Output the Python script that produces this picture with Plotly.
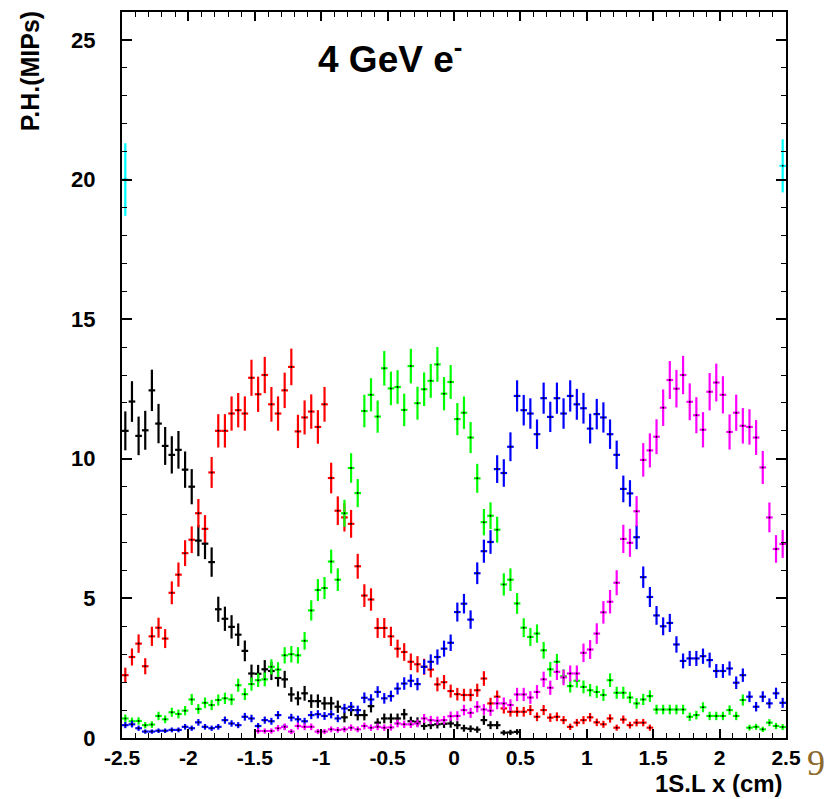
import numpy as np
import plotly.graph_objects as go

# ---- binning (bin width 0.05 cm, from -2.5 to 2.5) ----
X_MIN = -2.5
BIN_W = 0.05

# ---- data: pulse height (MIPs) per bin, for each pad ----
black_first = 0
black_vals = [11.0, 12.05, 10.82, 11.02, 12.45, 11.26, 10.46, 10.14, 10.32, 9.61,
              9.0, 7.07, 6.96, 6.3, 4.61, 4.27, 3.98, 3.70, 3.12, 2.31,
              2.3, 2.46, 2.4, 2.15, 2.10, 1.56, 1.42, 1.60, 1.32, 1.32,
              1.24, 1.24, 1.12, 0.74, 1.0, 0.82, 0.82, 1.14, 0.55, 0.70,
              0.70, 0.7, 0.85, 0.6, 0.58, 0.43, 0.46, 0.49, 0.51, 0.52,
              0.46, 0.35, 0.33, 0.30, 0.64, 0.46, 0.46, 0.19, 0.20, 0.22]

red_first = 0
red_vals = [2.25, 2.9, 3.38, 2.57, 3.64, 3.95, 3.56, 5.2, 5.85, 6.62,
            7.1, 8.05, 7.49, 9.51, 11.0, 11.0, 11.62, 11.74, 11.62, 12.9,
            12.31, 13.0, 11.95, 11.62, 12.45, 13.29, 10.98, 11.48, 11.69, 11.14,
            11.95, 9.31, 8.14, 7.9, 7.67, 6.15, 5.1, 4.96, 3.94, 3.94,
            3.64, 3.2, 3.08, 2.73, 2.64, 2.55, 2.45, 1.92, 2.0, 1.68,
            1.57, 1.54, 1.54, 1.71, 2.13, 1.24, 1.48, 1.06, 0.94, 0.94,
            0.94, 1.0, 0.76, 1.0, 0.73, 0.76, 0.64, 0.4, 0.55, 0.64,
            0.74, 0.56, 0.49, 0.70, 0.37, 0.66, 0.46, 0.55, 0.55, 0.37]

green_first = 0
green_vals = [0.70, 0.6, 0.61, 0.46, 0.48, 0.79, 0.67, 0.92, 0.86, 0.98,
              1.38, 1.04, 1.26, 1.18, 1.36, 1.42, 1.38, 1.89, 1.57, 1.93,
              2.07, 2.1, 2.55, 2.45, 2.96, 3.0, 2.96, 3.48, 4.57, 5.3,
              5.37, 6.32, 5.67, 8.05, 9.67, 8.77, 11.71, 12.29, 11.51, 13.24,
              12.52, 12.57, 11.75, 13.32, 11.99, 12.49, 12.79, 13.38, 12.33, 12.75,
              11.42, 11.65, 10.76, 9.3, 7.73, 7.96, 7.46, 5.5, 5.67, 4.82,
              3.95, 3.62, 3.74, 3.14, 2.46, 2.73, 2.21, 1.86, 2.05, 1.83,
              1.71, 1.65, 1.54, 2.07, 1.62, 1.62, 1.45, 1.24, 1.38, 1.5,
              1.02, 1.02, 1.02, 1.02, 1.02, 0.76, 0.82, 1.1, 0.79, 0.79,
              0.79, 1.0, 0.79, 1.36, 0.37, 0.4, 0.31, 0.55, 0.43, 0.39]

blue_first = 0
blue_vals = [0.46, 0.49, 0.35, 0.23, 0.23, 0.26, 0.26, 0.29, 0.29, 0.4,
             0.35, 0.56, 0.4, 0.35, 0.4, 0.64, 0.52, 0.46, 0.76, 0.70,
             0.43, 0.64, 0.6, 0.82, 0.4, 0.73, 0.67, 0.6, 0.82, 0.85,
             0.79, 0.85, 0.70, 1.06, 1.12, 1.0, 1.44, 1.38, 1.65, 1.42,
             1.5, 1.77, 1.95, 2.05, 1.93, 2.55, 2.73, 2.9, 3.2, 3.41,
             4.51, 4.81, 4.24, 5.9, 6.69, 7.02, 9.63, 9.49, 10.43, 12.25,
             11.74, 11.62, 10.88, 12.17, 11.5, 12.17, 11.62, 12.25, 11.95, 11.81,
             11.08, 11.6, 11.48, 10.88, 10.14, 8.92, 8.76, 7.19, 5.76, 5.05,
             4.39, 4.0, 4.12, 3.35, 2.76, 2.85, 2.85, 2.93, 2.79, 2.4,
             2.4, 2.49, 1.98, 2.25, 1.48, 1.12, 1.48, 1.24, 1.6, 1.26]

magenta_first = 20
magenta_vals = [0.25, 0.25, 0.25, 0.35, 0.4, 0.23, 0.43, 0.4, 0.4, 0.23,
                0.23, 0.31, 0.29, 0.31, 0.37, 0.31, 0.43, 0.37, 0.4, 0.37,
                0.38, 0.52, 0.49, 0.49, 0.52, 0.70, 0.64, 0.62, 0.64, 0.78,
                0.79, 1.0, 0.9, 1.12, 1.02, 0.98, 1.24, 1.24, 1.18, 1.56,
                1.56, 1.45, 1.65, 2.1, 1.8, 2.37, 2.17, 2.31, 2.31, 3.05,
                3.17, 3.74, 4.5, 4.88, 5.56, 7.13, 6.99, 8.12, 9.96, 10.3,
                10.79, 11.83, 12.82, 12.51, 13.0, 12.04, 11.56, 11.04, 12.4, 12.73,
                12.29, 10.96, 11.65, 11.18, 11.14, 10.76, 9.69, 7.9, 6.77, 6.95]

cyan_bins = [0, 99]
cyan_vals = [20.0, 20.49]
cyan_errs = [1.3, 0.95]

x_tick_vals = [-2.5, -2.0, -1.5, -1.0, -0.5, 0.0, 0.5, 1.0, 1.5, 2.0, 2.5]
x_tick_text = ["-2.5", "-2", "-1.5", "-1", "-0.5", "0", "0.5", "1", "1.5", "2", "2.5"]
y_tick_vals = [0, 5, 10, 15, 20, 25]
y_tick_text = ["0", "5", "10", "15", "20", "25"]

title_text = "4 GeV e<sup>-</sup>"
x_title = "1S.L x (cm)"
y_title = "P.H.(MIPs)"
page_no = "9"

# approximate statistical error scale per series (err ~ k*sqrt(PH))
err_scale = {"black": 0.21, "red": 0.18, "green": 0.17, "blue": 0.16, "magenta": 0.19}


def centers_from_bins(bins):
    return [X_MIN + BIN_W * (b + 0.5) for b in bins]


def series(first, vals):
    bins = list(range(first, first + len(vals)))
    return centers_from_bins(bins)


fig = go.Figure()


def add_series(xs, ys, errs, color):
    fig.add_trace(go.Scatter(
        x=xs, y=ys, mode="markers",
        marker=dict(size=2, color="black", line=dict(width=0)),
        error_y=dict(type="data", array=errs, visible=True, color=color,
                     thickness=2.2, width=0),
        error_x=dict(type="constant", value=BIN_W / 2, visible=True, color=color,
                     thickness=2.2, width=0),
        hoverinfo="x+y", showlegend=False,
    ))


for name, first, vals, color in [
    ("black", black_first, black_vals, "#000000"),
    ("red", red_first, red_vals, "#ff0000"),
    ("green", green_first, green_vals, "#00ff00"),
    ("blue", blue_first, blue_vals, "#0000ff"),
    ("magenta", magenta_first, magenta_vals, "#ff00ff"),
]:
    xs = series(first, vals)
    errs = [err_scale[name] * np.sqrt(v) for v in vals]
    add_series(xs, vals, errs, color)

add_series(centers_from_bins(cyan_bins), cyan_vals, cyan_errs, "#00ffff")

font_family = "Liberation Sans, Arial, sans-serif"

axis_common = dict(
    showline=True, linecolor="black", linewidth=2, mirror="ticks",
    ticks="inside", tickcolor="black", tickwidth=1.5,
    showgrid=False, zeroline=False,
)

fig.update_layout(
    width=831, height=799,
    margin=dict(l=122, r=45, t=10, b=61),
    plot_bgcolor="white", paper_bgcolor="white",
    showlegend=False,
    xaxis=dict(range=[-2.5, 2.5], tickmode="array", tickvals=x_tick_vals, ticktext=x_tick_text,
               ticklen=9, ticklabelstandoff=0,
               tickfont=dict(family=font_family, size=21, color="black", weight="bold"),
               minor=dict(dtick=0.1, tick0=-2.5, ticks="inside", ticklen=5, tickcolor="black", tickwidth=1),
               **axis_common),
    yaxis=dict(range=[0, 26], tickmode="array", tickvals=y_tick_vals, ticktext=y_tick_text,
               ticklen=10, ticklabelstandoff=20,
               tickfont=dict(family=font_family, size=22, color="black", weight="bold"),
               minor=dict(dtick=1, tick0=0, ticks="inside", ticklen=5, tickcolor="black", tickwidth=1),
               **axis_common),
)

fig.add_annotation(text=title_text, xref="x", yref="y", x=-0.48, y=24.4,
                   xanchor="center", yanchor="middle", showarrow=False,
                   font=dict(family=font_family, size=37, color="black", weight="bold"))
fig.add_annotation(text=x_title, xref="paper", yref="paper", x=0.998, y=-0.0625,
                   xanchor="right", yanchor="middle", showarrow=False,
                   font=dict(family=font_family, size=24, color="black", weight="bold"))
fig.add_annotation(text=y_title, xref="paper", yref="paper", x=-0.139, y=0.918,
                   xanchor="center", yanchor="middle", showarrow=False, textangle=-90,
                   font=dict(family=font_family, size=25, color="black", weight="bold"))
fig.add_annotation(text=page_no, xref="paper", yref="paper", x=1.045, y=-0.034,
                   xanchor="center", yanchor="middle", showarrow=False,
                   font=dict(family="Liberation Serif, serif", size=36, color="#8b6a2b"))

fig.write_html("out.html", config={"displayModeBar": False},
               post_script="document.body.style.margin='0px';")
